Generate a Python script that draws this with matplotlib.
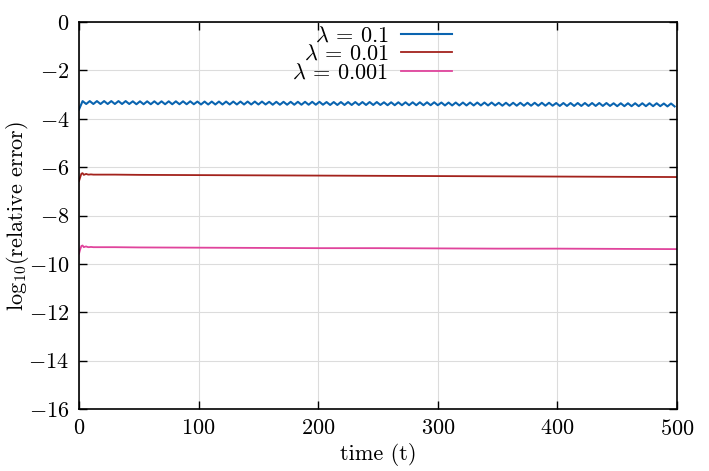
import numpy as np
import matplotlib
matplotlib.use("Agg")
import matplotlib.pyplot as plt
from matplotlib.ticker import FuncFormatter, MultipleLocator

plt.rcParams['font.family'] = 'serif'
plt.rcParams['font.serif'] = ['cmr10', 'DejaVu Serif']
plt.rcParams['mathtext.fontset'] = 'cm'
plt.rcParams['axes.unicode_minus'] = False
plt.rcParams['axes.formatter.use_mathtext'] = True

# ---- data ----
t_blue = np.arange(0, 499, 3)
err_blue = [
    -3.62, -3.27, -3.39, -3.27, -3.39, -3.27, -3.39, -3.27, -3.39, -3.27,
    -3.39, -3.27, -3.39, -3.27, -3.39, -3.28, -3.40, -3.28, -3.40, -3.28,
    -3.40, -3.28, -3.40, -3.28, -3.40, -3.28, -3.40, -3.28, -3.40, -3.28,
    -3.40, -3.28, -3.40, -3.29, -3.41, -3.29, -3.41, -3.29, -3.41, -3.29,
    -3.41, -3.29, -3.41, -3.29, -3.41, -3.29, -3.41, -3.29, -3.41, -3.29,
    -3.41, -3.29, -3.41, -3.30, -3.42, -3.30, -3.42, -3.30, -3.42, -3.30,
    -3.42, -3.30, -3.42, -3.30, -3.42, -3.30, -3.42, -3.30, -3.42, -3.31,
    -3.43, -3.31, -3.43, -3.31, -3.43, -3.31, -3.43, -3.31, -3.43, -3.31,
    -3.43, -3.31, -3.43, -3.31, -3.43, -3.32, -3.44, -3.32, -3.44, -3.32,
    -3.44, -3.32, -3.44, -3.32, -3.44, -3.32, -3.44, -3.32, -3.44, -3.32,
    -3.44, -3.33, -3.45, -3.33, -3.45, -3.33, -3.45, -3.33, -3.45, -3.33,
    -3.45, -3.33, -3.45, -3.33, -3.45, -3.33, -3.45, -3.34, -3.46, -3.34,
    -3.46, -3.34, -3.46, -3.34, -3.46, -3.34, -3.46, -3.34, -3.46, -3.34,
    -3.46, -3.34, -3.46, -3.35, -3.47, -3.35, -3.47, -3.35, -3.47, -3.35,
    -3.47, -3.35, -3.47, -3.35, -3.47, -3.35, -3.47, -3.35, -3.47, -3.36,
    -3.48, -3.36, -3.48, -3.36, -3.48, -3.36, -3.48, -3.36, -3.48, -3.36,
    -3.48, -3.36, -3.48, -3.37, -3.49, -3.37, -3.49,
]

t_red = [0, 1, 2, 3, 4, 5, 6, 7, 8, 10, 12, 15, 20, 30, 50, 100, 150, 200,
         250, 300, 350, 400, 450, 500]
err_red = [-6.58, -6.42, -6.27, -6.25, -6.32, -6.30, -6.28, -6.30, -6.31,
           -6.30, -6.31, -6.31, -6.31, -6.31, -6.32, -6.33, -6.34, -6.35,
           -6.36, -6.37, -6.38, -6.39, -6.40, -6.41]

t_pink = [0, 1, 2, 3, 4, 5, 6, 7, 8, 10, 12, 15, 20, 30, 50, 100, 150, 200,
          250, 300, 350, 400, 450, 500]
err_pink = [-9.58, -9.40, -9.26, -9.24, -9.31, -9.29, -9.28, -9.30, -9.31,
            -9.30, -9.31, -9.31, -9.31, -9.31, -9.32, -9.33, -9.34, -9.35,
            -9.35, -9.36, -9.37, -9.37, -9.38, -9.39]

labels = [r'$\lambda$ = 0.1', r'$\lambda$ = 0.01', r'$\lambda$ = 0.001']
colors = ['#0a64b0', '#a3221c', '#e0449c']

# ---- figure ----
FS = 16
fig = plt.figure(figsize=(7.09, 4.71), dpi=100)
ax = fig.add_axes([79/709, 1-409/471, (677-79)/709, (409-22)/471])

ax.plot(t_blue, err_blue, color=colors[0], lw=1.5, label=labels[0])
ax.plot(t_red, err_red, color=colors[1], lw=1.3, label=labels[1])
ax.plot(t_pink, err_pink, color=colors[2], lw=1.3, label=labels[2])

ax.set_xlim(0, 500)
ax.set_ylim(-16, 0)
ax.xaxis.set_major_locator(MultipleLocator(100))
ax.yaxis.set_major_locator(MultipleLocator(2))
ax.xaxis.set_major_formatter(FuncFormatter(lambda v, p: r'$%d$' % round(v)))
ax.yaxis.set_major_formatter(FuncFormatter(lambda v, p: r'$%d$' % round(v)))
ax.grid(True, color='#dcdcdc', lw=0.8)
ax.set_axisbelow(True)
ax.tick_params(direction='in', length=6, width=1, top=True, right=True,
               labelsize=FS, pad=7)
for s in ax.spines.values():
    s.set_linewidth(1.2)
    s.set_color('black')

ax.set_xlabel('time (t)', fontsize=FS, labelpad=3)
ax.set_ylabel(r'log$_{10}$(relative error)', fontsize=FS)
ax.yaxis.set_label_coords(-0.08, 0.5)

leg = ax.legend(loc='upper center', bbox_to_anchor=(0.49, 1.03), frameon=False,
                markerfirst=False, fontsize=FS, labelspacing=-0.05,
                handlelength=2.3, handletextpad=0.55, borderpad=0.2)
for txt in leg.get_texts():
    txt.set_ha('right')

fig.savefig('out.png', dpi=100)
